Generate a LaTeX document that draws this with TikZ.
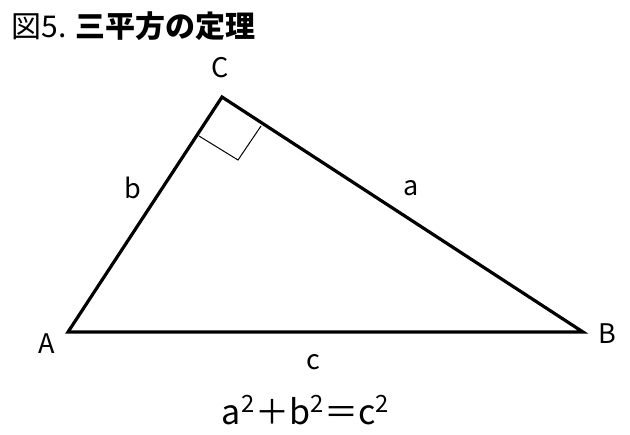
\documentclass[tikz,border=0pt]{standalone}
\usepackage{fontspec}
\setmainfont{Noto Sans CJK JP}
\usepackage{tikz}
\usetikzlibrary{positioning}

\tikzset{
	lbl/.style={font=\fontsize{13.5}{14}\selectfont, inner sep=0pt},
	side/.style={line width=1.6pt, line join=miter},
}

\begin{document}
\begin{tikzpicture}[x=0.5pt,y=-0.5pt]
				\useasboundingbox (0,0) rectangle (630,434);
				%Nodes
				\node[anchor=west, inner sep=0pt, font=\fontsize{15}{16}\selectfont] (title) at (11,26) {図5. \textbf{三平方の定理}};
				\coordinate      (A) 	at 	(68,332);
				\coordinate      (B) 	at 	(583,332);
				\coordinate      (C) 	at 	(222,97);
				\coordinate      (rA) 	at 	(199,136);
				\coordinate      (rB) 	at 	(261,126);
				\coordinate      (rC) 	at 	(238,160);
				\node[lbl] (labelA) at (47,344) {A};
				\node[lbl] (labelB) at (607,334) {B};
				\node[lbl] (labelC) at (220,68) {C};
				\node[lbl] (labela) at (411,188) {a};
				\node[lbl] (labelb) at (133,188) {b};
				\node[lbl] (labelc) at (313,362) {c};
				\node[inner sep=0pt, font=\fontsize{17}{20}\selectfont] (formula) at (306,410) {a\textsuperscript{2}＋b\textsuperscript{2}＝c\textsuperscript{2}};

				%Lines
				\draw[side] (A) -- (B) -- (C) -- cycle;
				\draw[line width=0.5pt] (rA) -- (rC) -- (rB);
\end{tikzpicture}
\end{document}
